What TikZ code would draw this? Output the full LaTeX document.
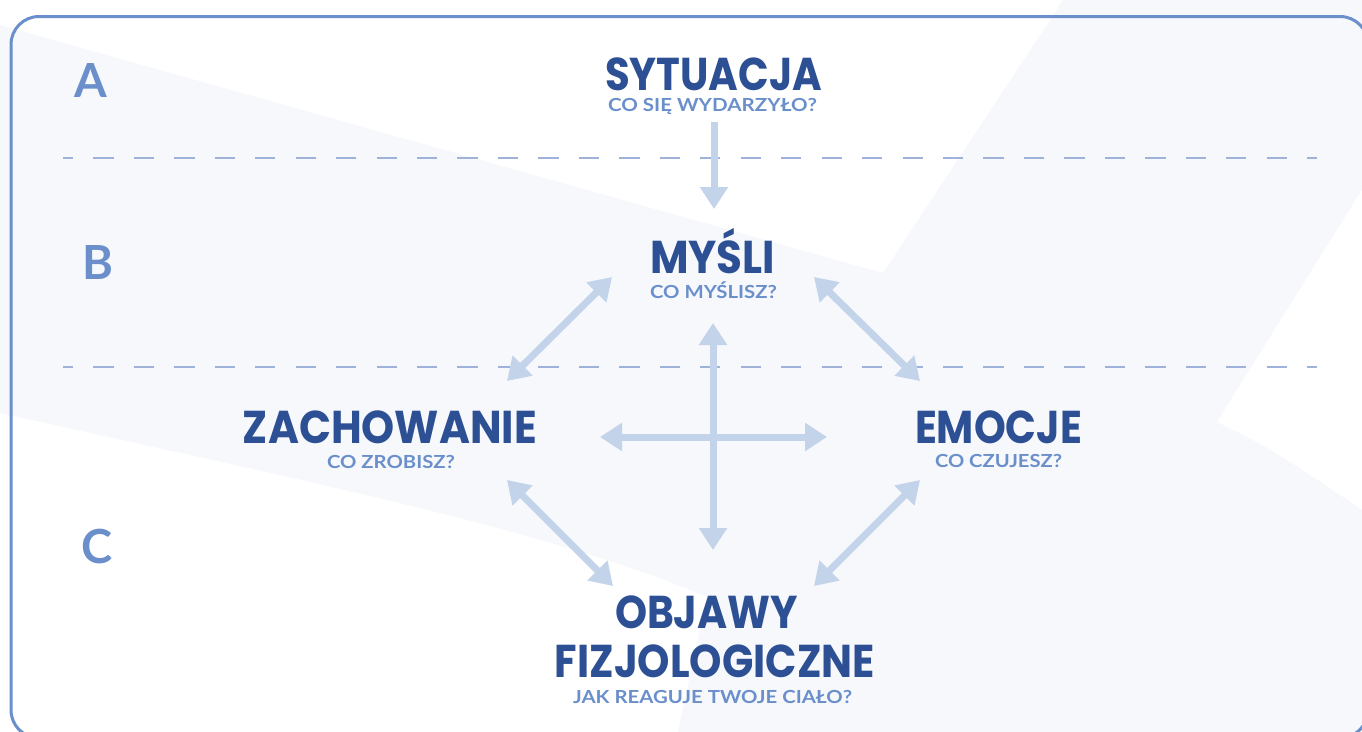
\documentclass[tikz,border=0pt]{standalone}
\usepackage{fontspec}
\usepackage{graphicx}
\usetikzlibrary{arrows.meta}
\newfontfamily\titlefont{Poppins}
\newfontfamily\subfont{Lato}
\newcommand{\fitw}[2]{\resizebox{#1}{\height}{#2}}
\definecolor{bglight}{HTML}{F6F8FC}
\definecolor{framecol}{HTML}{6A8FCB}
\definecolor{dashcol}{HTML}{9FB2D9}
\definecolor{arrowcol}{HTML}{C2D3EA}
\definecolor{titlecol}{HTML}{2C5093}
\definecolor{subcol}{HTML}{6A8FCB}
\begin{document}
\begin{tikzpicture}[x=1pt,y=-1pt,
  title/.style={font=\titlefont\bfseries\fontsize{46}{46}\selectfont, text=titlecol, inner sep=0pt, anchor=base, text depth=0pt},
  sub/.style={font=\subfont\bfseries\fontsize{18}{18}\selectfont, text=subcol, inner sep=0pt, anchor=base, text depth=0pt, text height=13pt},
  letter/.style={font=\subfont\bfseries\fontsize{47}{47}\selectfont, text=subcol, inner sep=0pt, anchor=base},
  link/.style={line width=7pt, draw=arrowcol, {Triangle[length=22pt,width=27pt]}-{Triangle[length=22pt,width=27pt]}},
  onelink/.style={line width=7pt, draw=arrowcol, -{Triangle[length=22pt,width=27pt]}},
  divider/.style={draw=dashcol, line width=2.2pt, dash pattern=on 20.23pt off 20.23pt, dash phase=10.11pt},
  frame/.style={draw=framecol, line width=3pt, rounded corners=28pt}
]
\useasboundingbox (0,0) rectangle (1362,731);
% background
\fill[bglight] (-5,-5) rectangle (1367,736);
\fill[white] (-5,-5) -- (1063,-5) -- (1063,0) -- (883,273) -- (0,25) -- (-5,24) -- cycle;
\fill[white] (1367,182) -- (1362,190) -- (1217,422) .. controls (1270,448) .. (1367,513) -- cycle;
\fill[white] (-5,412) -- (0,413) .. controls (300,480) and (550,530) .. (707,597) -- (677,736) -- (-5,736) -- cycle;
% frame
\draw[frame] (11,16.5) rectangle (1368,738);
% dividers
\draw[divider] (63,158) -- (1317,158);
\draw[divider] (63,367) -- (1317,367);
% letters
\node[letter] (la) at (90.5,97) {A};
\node[letter] (lb) at (97.5,279) {B};
\node[letter] (lc) at (97.5,563) {C};
% titles
\node[title] (sit) at (713.5,90) {\fitw{217pt}{SYTUACJA}};
\node[sub] (sitq) at (712.5,111) {\fitw{209pt}{CO SIĘ WYDARZYŁO?}};
\node[title] (mys) at (712.5,273) {\fitw{125pt}{MYŚLI}};
\node[sub] (mysq) at (713.5,298) {\fitw{127pt}{CO MYŚLISZ?}};
\node[title] (zach) at (390,443) {\fitw{294pt}{ZACHOWANIE}};
\node[sub] (zachq) at (391,468) {\fitw{128pt}{CO ZROBISZ?}};
\node[title] (emo) at (998.5,443) {\fitw{167pt}{EMOCJE}};
\node[sub] (emoq) at (998.5,467) {\fitw{127pt}{CO CZUJESZ?}};
\node[title] (obj1) at (706.5,628) {\fitw{183pt}{OBJAWY}};
\node[title] (obj2) at (715,677) {\fitw{320pt}{FIZJOLOGICZNE}};
\node[sub] (objq) at (712.5,703) {\fitw{279pt}{JAK REAGUJE TWOJE CIAŁO?}};
% arrow end points
\coordinate (sitB) at (714,122);
\coordinate (mysT) at (714,209);
\coordinate (mysL) at (612,277);
\coordinate (zachU) at (507,381);
\coordinate (mysR) at (814,277);
\coordinate (emoU) at (920,381);
\coordinate (zachD) at (507,480);
\coordinate (objL) at (613,586);
\coordinate (emoD) at (920,480);
\coordinate (objR) at (814,586);
\coordinate (cT) at (713,323);
\coordinate (cB) at (713,550);
\coordinate (cL) at (600,437);
\coordinate (cR) at (827,437);
% connectors
\draw[onelink] (sitB) -- (mysT);
\draw[link] (zachU) -- (mysL);
\draw[link] (mysR) -- (emoU);
\draw[link] (zachD) -- (objL);
\draw[link] (emoD) -- (objR);
\draw[link] (cT) -- (cB);
\draw[link] (cL) -- (cR);
\end{tikzpicture}
\end{document}
